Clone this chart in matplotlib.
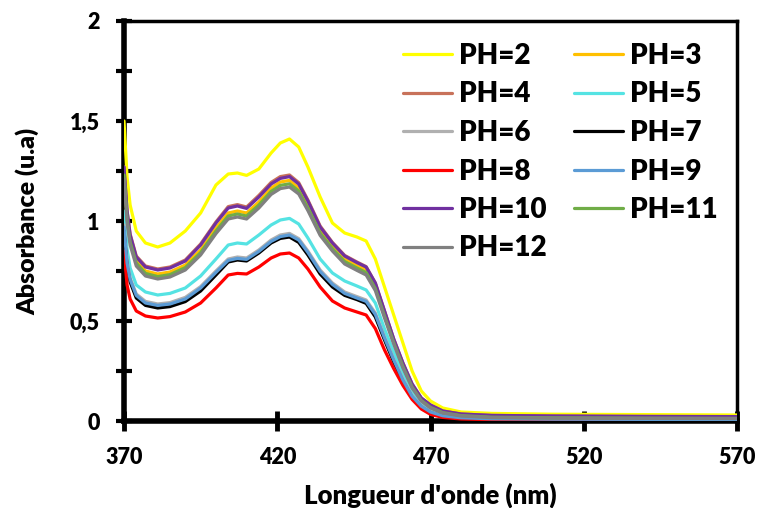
import matplotlib
matplotlib.use("Agg")
import matplotlib.pyplot as plt
from matplotlib.ticker import MultipleLocator, FixedLocator

plt.rcParams['font.family'] = ['Lato', 'DejaVu Sans']
plt.rcParams['font.weight'] = 'heavy'

# wavelength grid (nm)
wl = [370, 371, 372, 374, 377, 381, 385, 390, 395, 400, 404, 407, 410, 414, 418, 421, 424, 427,
      430, 434, 438, 442, 446, 449, 452, 455, 458, 461, 464, 467, 470, 474, 480, 490, 510, 540, 570]

ph2 = [1.50, 1.22, 1.08, 0.95, 0.89, 0.87, 0.89, 0.95, 1.04, 1.18, 1.235, 1.24, 1.228, 1.26, 1.34, 1.39, 1.41, 1.37,
       1.27, 1.12, 0.99, 0.94, 0.92, 0.90, 0.81, 0.67, 0.53, 0.39, 0.25, 0.15, 0.10, 0.065, 0.045, 0.038, 0.034, 0.032, 0.030]
ph3 = [1.24, 1.02, 0.905, 0.80, 0.75, 0.735, 0.745, 0.78, 0.855, 0.965, 1.04, 1.05, 1.04, 1.095, 1.165, 1.195, 1.203, 1.165,
       1.08, 0.955, 0.875, 0.81, 0.778, 0.755, 0.675, 0.535, 0.40, 0.28, 0.175, 0.108, 0.072, 0.045, 0.03, 0.022, 0.019, 0.017, 0.016]
ph4 = [1.27, 1.05, 0.935, 0.825, 0.775, 0.76, 0.77, 0.805, 0.885, 0.995, 1.072, 1.082, 1.07, 1.128, 1.193, 1.222, 1.23, 1.192,
       1.105, 0.975, 0.893, 0.828, 0.795, 0.772, 0.69, 0.55, 0.41, 0.29, 0.185, 0.115, 0.08, 0.05, 0.035, 0.028, 0.025, 0.023, 0.022]
ph5 = [1.05, 0.86, 0.765, 0.68, 0.645, 0.63, 0.638, 0.665, 0.725, 0.81, 0.88, 0.89, 0.885, 0.93, 0.98, 1.005, 1.013, 0.985,
       0.915, 0.81, 0.74, 0.70, 0.675, 0.655, 0.59, 0.46, 0.345, 0.24, 0.15, 0.09, 0.058, 0.035, 0.022, 0.015, 0.012, 0.011, 0.010]
ph6 = [0.98, 0.80, 0.715, 0.635, 0.598, 0.585, 0.592, 0.618, 0.672, 0.75, 0.81, 0.82, 0.815, 0.855, 0.905, 0.93, 0.938, 0.912,
       0.85, 0.755, 0.69, 0.645, 0.622, 0.605, 0.54, 0.42, 0.31, 0.21, 0.128, 0.077, 0.048, 0.028, 0.017, 0.012, 0.010, 0.009, 0.008]
ph7 = [0.95, 0.775, 0.695, 0.615, 0.578, 0.565, 0.572, 0.597, 0.65, 0.73, 0.795, 0.805, 0.80, 0.84, 0.89, 0.913, 0.92, 0.893,
       0.83, 0.735, 0.67, 0.628, 0.607, 0.588, 0.52, 0.405, 0.295, 0.198, 0.118, 0.07, 0.042, 0.024, 0.014, 0.010, 0.008, 0.007, 0.006]
ph8 = [0.85, 0.68, 0.61, 0.55, 0.525, 0.515, 0.522, 0.545, 0.59, 0.665, 0.73, 0.738, 0.735, 0.77, 0.815, 0.835, 0.84, 0.815,
       0.76, 0.67, 0.60, 0.565, 0.545, 0.53, 0.462, 0.355, 0.262, 0.178, 0.108, 0.06, 0.033, 0.018, 0.010, 0.007, 0.006, 0.005, 0.005]
ph9 = [0.97, 0.79, 0.708, 0.628, 0.59, 0.578, 0.585, 0.61, 0.665, 0.743, 0.803, 0.813, 0.808, 0.848, 0.898, 0.922, 0.93, 0.905,
       0.843, 0.748, 0.683, 0.638, 0.615, 0.598, 0.533, 0.415, 0.305, 0.205, 0.124, 0.074, 0.045, 0.026, 0.016, 0.011, 0.009, 0.008, 0.007]
ph10 = [1.27, 1.05, 0.93, 0.82, 0.77, 0.755, 0.765, 0.80, 0.88, 0.99, 1.065, 1.075, 1.063, 1.12, 1.185, 1.213, 1.222, 1.185,
        1.10, 0.97, 0.89, 0.825, 0.792, 0.77, 0.69, 0.55, 0.41, 0.29, 0.185, 0.115, 0.08, 0.05, 0.035, 0.028, 0.025, 0.023, 0.022]
ph11 = [1.23, 1.01, 0.895, 0.79, 0.738, 0.722, 0.732, 0.767, 0.842, 0.95, 1.025, 1.035, 1.025, 1.08, 1.148, 1.178, 1.186, 1.15,
        1.065, 0.94, 0.862, 0.797, 0.765, 0.742, 0.662, 0.525, 0.392, 0.272, 0.17, 0.103, 0.068, 0.042, 0.027, 0.019, 0.016, 0.014, 0.013]
ph12 = [1.21, 0.995, 0.88, 0.775, 0.725, 0.71, 0.72, 0.755, 0.83, 0.937, 1.01, 1.02, 1.01, 1.065, 1.133, 1.162, 1.17, 1.135,
        1.052, 0.928, 0.85, 0.785, 0.753, 0.73, 0.652, 0.515, 0.385, 0.265, 0.165, 0.10, 0.065, 0.04, 0.025, 0.017, 0.014, 0.013, 0.012]

labels = ['PH=2', 'PH=3', 'PH=4', 'PH=5', 'PH=6', 'PH=7', 'PH=8', 'PH=9', 'PH=10', 'PH=11', 'PH=12']
series = [ph2, ph3, ph4, ph5, ph6, ph7, ph8, ph9, ph10, ph11, ph12]
colors = ['#FFFF00', '#FFC000', '#C8725A', '#55E3E3', '#B0B0B0', '#000000',
          '#FF0000', '#5B9BD5', '#7030A0', '#70AD47', '#808080']
xticks = [370, 420, 470, 520, 570]

fig = plt.figure(figsize=(7.58, 5.08), dpi=100)
ax = fig.add_axes([124 / 758, 87 / 508, 613 / 758, 400 / 508])

lines = []
for y, c, lab in zip(series, colors, labels):
    ln, = ax.plot(wl, y, color=c, lw=2.3, label=lab, zorder=3, solid_capstyle='round')
    lines.append(ln)

ax.set_xlim(370, 570)
ax.set_ylim(0, 2)
ax.xaxis.set_major_locator(FixedLocator(xticks))
ax.yaxis.set_major_locator(FixedLocator([0, 0.5, 1, 1.5, 2]))
ax.yaxis.set_minor_locator(MultipleLocator(0.25))
ax.set_yticklabels(['0', '0,5', '1', '1,5', '2'])

ax.tick_params(axis='x', which='major', direction='inout', length=14, width=3.5, pad=12, labelsize=15.5)
ax.tick_params(axis='y', which='both', direction='inout', length=11, width=3, pad=12, labelsize=15.5)
ax.tick_params(top=False, right=False)

for s in ['left', 'bottom']:
    ax.spines[s].set_linewidth(4)
for s in ['top', 'right']:
    ax.spines[s].set_linewidth(2.5)

ax.set_xlabel("Longueur d'onde (nm)", fontsize=18.5, fontweight='heavy', labelpad=10)
ax.set_ylabel('Absorbance (u.a)', fontsize=18, fontweight='heavy', labelpad=22)

# legend is filled row by row in the reference
order = [0, 2, 4, 6, 8, 10, 1, 3, 5, 7, 9]
ax.legend([lines[i] for i in order], [labels[i] for i in order], ncol=2, frameon=False,
          loc='upper left', bbox_to_anchor=(403 / 758, 1 - 43 / 508), bbox_transform=fig.transFigure,
          handlelength=1.75, handletextpad=0.25, columnspacing=1.0,
          labelspacing=0.45, borderpad=0, borderaxespad=0,
          prop={'weight': 'heavy', 'size': 20})

fig.savefig('out.png', dpi=100)
